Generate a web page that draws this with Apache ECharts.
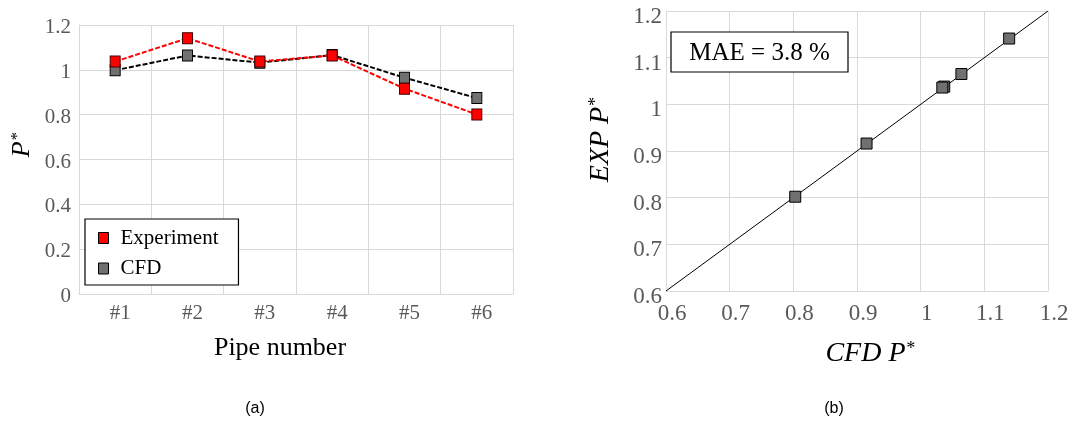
<!DOCTYPE html>
<html>
<head>
<meta charset="utf-8">
<style>
  html, body { margin: 0; padding: 0; background: #fff; }
  #chart { width: 1077px; height: 421px; }
</style>
<script src="https://cdn.jsdelivr.net/npm/echarts@6/dist/echarts.min.js"></script>
</head>
<body>
<div id="chart"></div>
<script>
// ---- data ----
var pipeCategories = ['#1', '#2', '#3', '#4', '#5', '#6'];
var experimentValues = [1.037, 1.141, 1.037, 1.064, 0.916, 0.801];
var cfdValues = [0.998, 1.064, 1.032, 1.066, 0.965, 0.874];
var scatterCfdX = [1.037, 1.139, 1.034, 1.064, 0.915, 0.803];
var scatterExpY = [1.038, 1.141, 1.036, 1.065, 0.916, 0.802];
var diagonalLine = [0.6, 1.2];
var maeText = 'MAE = 3.8 %';

var serif = '"Liberation Serif", "Times New Roman", serif';
var sans = '"Liberation Sans", Arial, sans-serif';
var gridColor = '#d9d9d9';
var tickColor = '#595959';

var scatterData = scatterCfdX.map(function (x, i) { return [x, scatterExpY[i]]; });
var diagData = diagonalLine.map(function (v) { return [v, v]; });

var chart = echarts.init(document.getElementById('chart'));
chart.setOption({
  backgroundColor: '#fff',
  animation: false,
  grid: [
    { left: 79, top: 25, width: 434, height: 269 },
    { left: 666, top: 11, width: 382, height: 280 }
  ],
  xAxis: [
    {
      gridIndex: 0, type: 'category', data: pipeCategories, boundaryGap: true,
      axisLine: { show: true, lineStyle: { color: gridColor, width: 1 } },
      axisTick: { show: false },
      splitLine: { show: true, interval: 0, lineStyle: { color: gridColor, width: 1 } },
      axisLabel: { color: tickColor, fontFamily: serif, fontSize: 21, margin: 9, padding: [0, 0, 0, 10], interval: 0 }
    },
    {
      gridIndex: 1, type: 'value', min: 0.6, max: 1.2, interval: 0.1,
      axisLine: { show: true, lineStyle: { color: gridColor, width: 1 } },
      axisTick: { show: false },
      splitLine: { show: true, lineStyle: { color: gridColor, width: 1 } },
      axisLabel: { color: tickColor, fontFamily: serif, fontSize: 23, margin: 11, padding: [0, 0, 0, 12],
        showMinLabel: true, showMaxLabel: true }
    }
  ],
  yAxis: [
    {
      gridIndex: 0, type: 'value', min: 0, max: 1.2, interval: 0.2,
      axisLine: { show: true, lineStyle: { color: gridColor, width: 1 } },
      axisTick: { show: false },
      splitLine: { show: true, lineStyle: { color: gridColor, width: 1 } },
      axisLabel: { color: tickColor, fontFamily: serif, fontSize: 21, margin: 8, verticalAlign: 'top', lineHeight: 5 }
    },
    {
      gridIndex: 1, type: 'value', min: 0.6, max: 1.2, interval: 0.1,
      axisLine: { show: true, lineStyle: { color: gridColor, width: 1 } },
      axisTick: { show: false },
      splitLine: { show: true, lineStyle: { color: gridColor, width: 1 } },
      axisLabel: { color: tickColor, fontFamily: serif, fontSize: 23, margin: 4, verticalAlign: 'top', lineHeight: 12,
        showMinLabel: true, showMaxLabel: true }
    }
  ],
  legend: {
    left: 85, top: 219, orient: 'vertical',
    data: [
      { name: 'Experiment', itemStyle: { color: '#ff0000', borderColor: '#000', borderWidth: 1 } },
      { name: 'CFD', itemStyle: { color: '#707070', borderColor: '#000', borderWidth: 1 } }
    ],
    icon: 'rect', itemWidth: 10, itemHeight: 11, itemGap: 9.5,
    padding: [8.5, 20, 6, 13],
    borderColor: '#000', borderWidth: 1.2, backgroundColor: '#fff',
    textStyle: { fontFamily: serif, fontSize: 21, color: '#000', lineHeight: 21, padding: [0, 0, 0, 7] },
    selectedMode: false
  },
  series: [
    {
      name: 'CFD', type: 'line', xAxisIndex: 0, yAxisIndex: 0, data: cfdValues,
      symbol: 'rect', symbolSize: [10, 11],
      itemStyle: { color: '#707070', borderColor: '#000', borderWidth: 1 },
      lineStyle: { color: '#000', width: 2, type: [5, 2] },
      z: 2
    },
    {
      name: 'Experiment', type: 'line', xAxisIndex: 0, yAxisIndex: 0, data: experimentValues,
      symbol: 'rect', symbolSize: [10, 11],
      itemStyle: { color: '#ff0000', borderColor: '#400000', borderWidth: 1 },
      lineStyle: { color: '#ff0000', width: 2, type: [5, 2] },
      z: 3
    },
    {
      name: 'diagonal', type: 'line', xAxisIndex: 1, yAxisIndex: 1, data: diagData,
      symbol: 'none', lineStyle: { color: '#000', width: 1 }, z: 2
    },
    {
      name: 'scatter', type: 'scatter', xAxisIndex: 1, yAxisIndex: 1, data: scatterData,
      symbol: 'rect', symbolSize: 11,
      itemStyle: { color: '#707070', borderColor: '#000', borderWidth: 1, opacity: 1 },
      z: 3
    }
  ],
  graphic: [
    {
      type: 'text', x: 22, y: 145, rotation: Math.PI / 2, z: 10,
      style: {
        text: '{m|P}{s|*}', align: 'center', verticalAlign: 'middle',
        rich: {
          m: { fontFamily: serif, fontStyle: 'italic', fontSize: 26, fill: '#000', lineHeight: 26 },
          s: { fontFamily: serif, fontStyle: 'italic', fontSize: 17, fill: '#000', verticalAlign: 'top', lineHeight: 17 }
        }
      }
    },
    {
      type: 'text', x: 280, y: 348, z: 10,
      style: { text: 'Pipe number', fontFamily: serif, fontSize: 26, fill: '#000', align: 'center', verticalAlign: 'middle' }
    },
    {
      type: 'text', x: 601, y: 140, rotation: Math.PI / 2, z: 10,
      style: {
        text: '{m|EXP P}{s|*}', align: 'center', verticalAlign: 'middle',
        rich: {
          m: { fontFamily: serif, fontStyle: 'italic', fontSize: 28, fill: '#000', lineHeight: 28 },
          s: { fontFamily: serif, fontStyle: 'italic', fontSize: 18, fill: '#000', verticalAlign: 'top', lineHeight: 18 }
        }
      }
    },
    {
      type: 'text', x: 870, y: 354, z: 10,
      style: {
        text: '{m|CFD P}{s|*}', align: 'center', verticalAlign: 'middle',
        rich: {
          m: { fontFamily: serif, fontStyle: 'italic', fontSize: 28, fill: '#000', lineHeight: 28 },
          s: { fontFamily: serif, fontStyle: 'italic', fontSize: 18, fill: '#000', verticalAlign: 'top', lineHeight: 18 }
        }
      }
    },
    {
      type: 'rect', z: 10,
      shape: { x: 671, y: 32, width: 177, height: 40 },
      style: { fill: '#fff', stroke: '#000', lineWidth: 1.2 }
    },
    {
      type: 'text', x: 759.5, y: 53, z: 11,
      style: { text: maeText, fontFamily: serif, fontSize: 25, fill: '#000', align: 'center', verticalAlign: 'middle' }
    },
    {
      type: 'text', x: 255, y: 409, z: 10,
      style: { text: '(a)', fontFamily: sans, fontSize: 16, fill: '#000', align: 'center', verticalAlign: 'middle' }
    },
    {
      type: 'text', x: 834, y: 409, z: 10,
      style: { text: '(b)', fontFamily: sans, fontSize: 16, fill: '#000', align: 'center', verticalAlign: 'middle' }
    }
  ]
});
</script>
</body>
</html>
